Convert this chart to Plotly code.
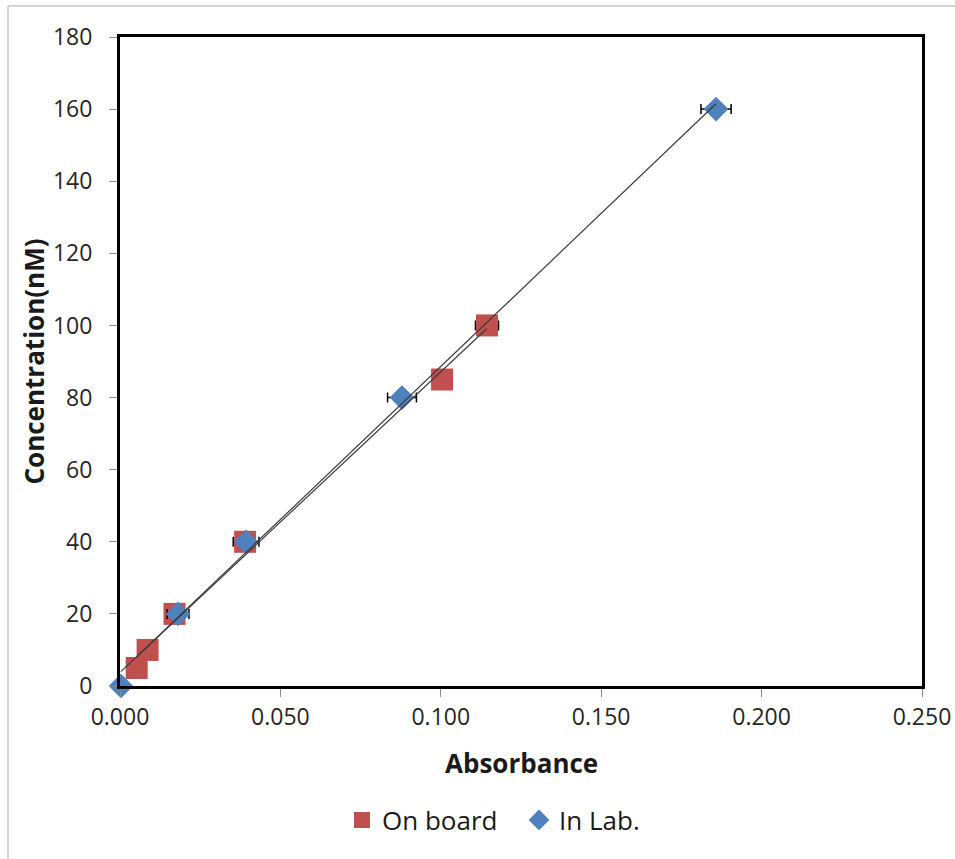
import numpy as np
import plotly.graph_objects as go

# On board (red squares)
onboard_abs = [0.0052, 0.0086, 0.0170, 0.0390, 0.1004, 0.1144]
onboard_conc = [5, 10, 20, 40, 85, 100]
onboard_err = [0.0015, 0.0015, 0.0020, 0.0025, 0.0030, 0.0036]

# In Lab (blue diamonds)
lab_abs = [0.0003, 0.0181, 0.0393, 0.0879, 0.1858]
lab_conc = [0, 20, 40, 80, 160]
lab_err = [0.0, 0.0034, 0.0040, 0.0045, 0.0047]

FONT = "Open Sans"
RED = "#C0504D"
BLUE = "#4F81BD"

fig = go.Figure()

fig.add_trace(go.Scatter(
    x=onboard_abs, y=onboard_conc, mode="markers", name="On board", cliponaxis=False,
    marker=dict(symbol="square", size=22, color=RED),
    error_x=dict(type="data", array=onboard_err, color="black", thickness=1.5, width=5),
))
fig.add_trace(go.Scatter(
    x=lab_abs, y=lab_conc, mode="markers", name="In Lab.", cliponaxis=False,
    marker=dict(symbol="diamond", size=19, color=BLUE),
    error_x=dict(type="data", array=lab_err, color="black", thickness=1.5, width=5),
))

# linear trendlines over each series' data range
for xs, ys in ((onboard_abs, onboard_conc), (lab_abs, lab_conc)):
    m, b = np.polyfit(xs, ys, 1)
    xr = np.array([min(xs), max(xs)])
    fig.add_trace(go.Scatter(
        x=xr, y=m * xr + b, mode="lines", showlegend=False, hoverinfo="skip",
        cliponaxis=False, line=dict(color="#3c3c3c", width=1.2),
    ))

W, H = 955, 859
L, R, T, B = 120, 33, 37, 173
pw, ph = W - L - R, H - T - B

def px(xp):
    return (xp - L) / pw

def py(yp):
    return (H - B - yp) / ph

axis_common = dict(
    showline=True, linecolor="black", linewidth=3, mirror=True,
    ticks="outside", tickcolor="#8c8c8c", ticklen=8, tickwidth=1,
    showgrid=False, zeroline=False, automargin=False,
    tickfont=dict(family=FONT, size=23, color="#262626"),
)

fig.update_layout(
    width=W, height=H,
    margin=dict(l=L, r=R, t=T, b=B),
    paper_bgcolor="white", plot_bgcolor="white",
    font=dict(family=FONT),
    xaxis=dict(range=[0, 0.25], dtick=0.05, tick0=0, tickformat=".3f", **axis_common),
    yaxis=dict(range=[0, 180], dtick=20, tick0=0, ticklabelstandoff=12, **axis_common),
    showlegend=True,
    legend=dict(orientation="h", x=px(342), y=py(820), xanchor="left", yanchor="middle",
                font=dict(family=FONT, size=26, color="#1a1a1a"), itemsizing="trace",
                entrywidth=132, entrywidthmode="pixels",
                bgcolor="rgba(0,0,0,0)"),
    annotations=[
        dict(text="<b>Absorbance</b>", xref="paper", yref="paper", x=0.5, y=py(763),
             xanchor="center", yanchor="middle", showarrow=False,
             font=dict(family=FONT, size=26, color="#1a1a1a")),
        dict(text="<b>Concentration(nM)</b>", xref="paper", yref="paper", x=px(33), y=0.5,
             xanchor="center", yanchor="middle", textangle=-90, showarrow=False,
             font=dict(family=FONT, size=26, color="#1a1a1a")),
    ],
    shapes=[
        dict(type="line", xref="paper", yref="paper", x0=px(8), x1=px(8), y0=py(6), y1=py(870),
             line=dict(color="#c8c8c8", width=1.5)),
        dict(type="line", xref="paper", yref="paper", x0=px(8), x1=px(960), y0=py(6), y1=py(6),
             line=dict(color="#c8c8c8", width=1.5)),
    ],
)

fig.write_html("out.html")
